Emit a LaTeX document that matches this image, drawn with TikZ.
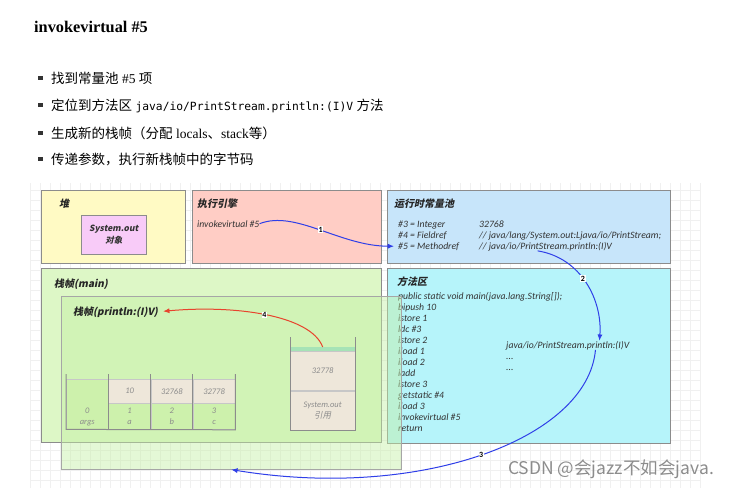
\documentclass[tikz,border=0pt]{standalone}
\usepackage{fontspec}
\setmainfont{Liberation Serif}
\setmonofont{DejaVu Sans Mono}
\newfontfamily\cjk{Noto Sans CJK SC}
\newfontfamily\cjksl[FakeSlant=0.2]{Noto Sans CJK SC}
\newfontfamily\dgm{Carlito}
\usetikzlibrary{arrows.meta}
\definecolor{heapyellow}{HTML}{FFFAC4}
\definecolor{enginepink}{HTML}{FFCDC5}
\definecolor{poolblue}{HTML}{C7E5FA}
\definecolor{framegreen}{HTML}{DDF7C6}
\definecolor{methodcyan}{HTML}{B6F4FA}
\definecolor{objpink}{HTML}{F8CBF8}
\definecolor{cellbeige}{HTML}{EEE7DA}
\definecolor{cellgreen}{HTML}{CDF1AC}
\definecolor{stacktop}{HTML}{A6E3B6}
\definecolor{newframe}{HTML}{C4EFA4}
\definecolor{callblue}{HTML}{2F3FE8}
\definecolor{retred}{HTML}{E8432D}

\begin{document}
\begin{tikzpicture}[x=1pt, y=-1pt,
    region/.style={draw=black!45, line width=0.6pt, anchor=north west, inner sep=0pt},
    head/.style={anchor=base west, inner sep=0pt, font=\cjksl\bfseries\fontsize{10}{12}\selectfont, text=black!85},
    code/.style={anchor=base west, inner sep=0pt, font=\dgm\itshape\fontsize{9.7}{11}\selectfont, text=black!80},
    cell/.style={draw=black!22, line width=0.4pt, inner sep=0pt, align=center,
                 font=\dgm\itshape\fontsize{8.5}{11}\selectfont, text=black!45},
    tray/.style={draw=black!45, line width=1pt},
    bullet/.style={anchor=base west, inner sep=0pt, font=\fontsize{13.5}{16}\selectfont},
    sq/.style={fill=black!80, minimum size=4.5pt, inner sep=0pt},
    num/.style={fill=white, inner sep=0.6pt, font=\dgm\bfseries\fontsize{8}{8}\selectfont, text=black},
    call/.style={-{Latex[length=2.2mm,width=1.8mm]}, draw=callblue, line width=1pt},
    back/.style={call, draw=retred}
  ]
    \useasboundingbox (0,0) rectangle (745,490);
    \draw[step=10pt, black!6, line width=0.3pt] (30,488) grid (700,183);

    % title and bullet list
    \node[anchor=base west, inner sep=0pt, font=\bfseries\fontsize{16.3}{18}\selectfont] (title) at (34,32) {invokevirtual \#5};
    \node[sq] (b1) at (40.5,78) {};
    \node[sq] (b2) at (40.5,105) {};
    \node[sq] (b3) at (40.5,133) {};
    \node[sq] (b4) at (40.5,159) {};
    \node[bullet] (t1) at (51,83) {{\cjk 找到常量池} \#5 {\cjk 项}};
    \node[bullet] (t2) at (51,110) {{\cjk 定位到方法区} {\ttfamily\fontsize{11.3}{14}\selectfont java/io/PrintStream.println:(I)V} {\cjk 方法}};
    \node[bullet] (t3) at (51,138) {{\cjk 生成新的栈帧（分配} locals{\cjk 、}stack{\cjk 等）}};
    \node[bullet] (t4) at (51,164) {\cjk 传递参数，执行新栈帧中的字节码};

    % heap
    \node[region, fill=heapyellow, minimum width=144pt, minimum height=73pt] (heap) at (41,190) {};
    \node[head] (heapl) at (59,207) {堆};
    \node[region, fill=objpink, minimum width=65pt, minimum height=39pt, align=center,
          font=\cjksl\bfseries\fontsize{8.5}{12}\selectfont, text=black!80] (obj) at (81,215) {System.out\\对象};

    % execution engine
    \node[region, fill=enginepink, minimum width=189pt, minimum height=73pt] (engine) at (192,190) {};
    \node[head] (enginel) at (197,207) {执行引擎};
    \node[code] (invk) at (197,227) {invokevirtual \#5};

    % runtime constant pool
    \node[region, fill=poolblue, minimum width=283pt, minimum height=73pt] (pool) at (387,190) {};
    \node[head] (pooll) at (394,207) {运行时常量池};
    \node[code] (r3) at (398,227) {\#3 = Integer};
    \node[code] (r4) at (398,238) {\#4 = Fieldref};
    \node[code] (r5) at (398,249) {\#5 = Methodref};
    \node[code] (v3) at (479,227) {32768};
    \node[code] (v4) at (479,238) {// java/lang/System.out:Ljava/io/PrintStream;};
    \node[code] (m5ref) at (479,249) {// java/io/PrintStream.println:(I)V};

    % main frame
    \node[region, fill=framegreen, minimum width=340pt, minimum height=174pt] (mainfr) at (41,268) {};
    \node[head] (mainl) at (54,287) {栈帧(main)};

    % method area
    \node[region, fill=methodcyan, minimum width=283pt, minimum height=175pt] (method) at (387,268) {};
    \node[head] (methodl) at (397,285) {方法区};
    \foreach \line [count=\k from 0] in {public static void main(java.lang.String[]);, bipush 10, istore 1,
        ldc \#3, istore 2, iload 1, iload 2, iadd, istore 3, getstatic \#4, iload 3, invokevirtual \#5, return}
      \node[code] (code\k) at (398,299+11*\k) {\line};
    \node[code] (pr) at (506,348) {java/io/PrintStream.println:(I)V};
    \node[code] (dots1) at (506,359) {...};
    \node[code] (dots2) at (506,370) {...};

    % new frame for println
    \node[region, fill=newframe, fill opacity=0.45, draw=black!35, minimum width=340pt, minimum height=173pt] (pfr) at (61,296) {};
    \node[head] (pfl) at (73,315) {栈帧(println:(I)V)};

    % locals
    \node[cell, fill=cellgreen, anchor=north west, minimum width=42.25pt, minimum height=50pt] (loc0) at (66,379) {};
    \node[cell, draw=none] (loc0t) at ([yshift=12pt]loc0.south) {0\\args};
    \foreach \i/\v/\n in {1/10/a, 2/32768/b, 3/32778/c} {
      \node[cell, fill=cellbeige, anchor=north west, minimum width=42.25pt, minimum height=24pt] (top\i) at (66+42.25*\i,379) {\v};
      \node[cell, fill=cellgreen, anchor=north, minimum width=42.25pt, minimum height=26pt] (bot\i) at (top\i.south) {\i\\\n};
    }
    \draw[tray] ([yshift=5pt]loc0.north west) -- (loc0.south west) -- (bot3.south east) -- ([yshift=5pt]top3.north east);
    \foreach \i in {1,2,3}
      \draw[tray, line width=0.6pt] ([yshift=5pt]top\i.north west) -- (bot\i.south west);

    % operand stack
    \node[cell, fill=stacktop, draw=none, anchor=north west, minimum width=65pt, minimum height=4pt] (stop) at (290,347) {};
    \node[cell, fill=cellbeige, anchor=north, minimum width=65pt, minimum height=39pt] (s1) at (stop.south) {32778};
    \node[cell, fill=cellbeige, anchor=north, minimum width=65pt, minimum height=39pt] (s2) at (s1.south) {System.out\\{\cjksl 引用}};
    \draw[tray] ([yshift=10pt]stop.north west) -- (s2.south west) -- (s2.south east) -- ([yshift=10pt]stop.north east);

    % steps
    \draw[call, shorten >=4pt] (invk.east) .. controls +(36,-14) and +(-58,0) .. (r5.west) node[num, pos=0.5] {1};
    \draw[call] ([xshift=-8pt]m5ref.south) .. controls +(44,7) and +(3,-40) .. ([xshift=-30pt]pr.north east) node[num, pos=0.45] {2};
    \draw[call] ([xshift=-34pt]pr.south east) .. controls +(-8,89) and +(189,31) .. (pfr.south) node[num, pos=0.5] {3};
    \draw[back, shorten >=5pt] (stop.north) .. controls +(-12,-32) and +(76,-7) .. (pfl.east) node[num, pos=0.5] {4};

    \node[anchor=west, inner sep=0pt, font=\cjk\fontsize{17.5}{17.5}\selectfont, text=black!45] (mark) at (508,469) {CSDN @会jazz不如会java.};
  \end{tikzpicture}
\end{document}
